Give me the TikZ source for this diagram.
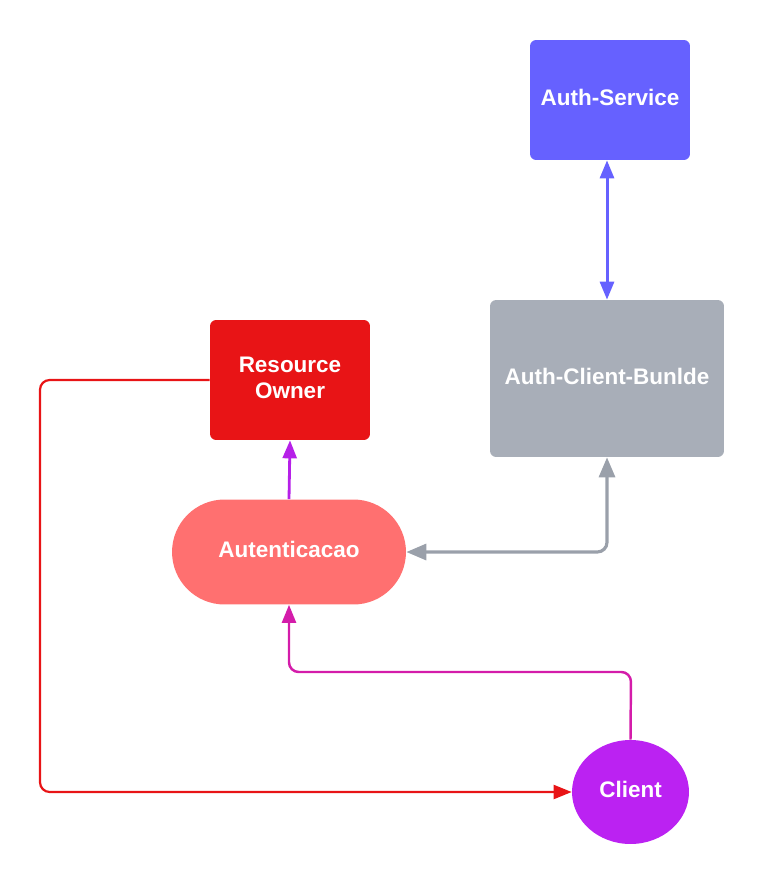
\documentclass[tikz,border=0pt]{standalone}
\usepackage{fontspec}
\setsansfont{Liberation Sans}
\usetikzlibrary{arrows.meta}
\usetikzlibrary{shapes.geometric}

\definecolor{servicecol}{HTML}{6661FF}
\definecolor{bundlecol}{HTML}{A8AEB8}
\definecolor{bundleline}{HTML}{9AA0AA}
\definecolor{ownercol}{HTML}{E81416}
\definecolor{authcol}{HTML}{FF7070}
\definecolor{clientcol}{HTML}{BB22F2}
\definecolor{purpleline}{HTML}{B620E8}
\definecolor{magentaline}{HTML}{D41CAA}

\begin{document}
\begin{tikzpicture}[x=0.02cm, y=-0.02cm]
          \tikzstyle{box} = [draw=none, rounded corners=3.5pt, inner sep=0pt, align=center, text=white, text depth=0.09cm, font=\sffamily\bfseries\fontsize{12.8}{15.3}\selectfont]
          \tikzstyle{link} = [line width=1.25pt, rounded corners=5.5pt, arrows={-Triangle[length=0.36cm, width=0.28cm]}]

          \useasboundingbox (0,0) rectangle (765,885);

          % Nodes
          \node[box, fill=servicecol, minimum width=3.2cm, minimum height=2.4cm] (service) at (610,100) {Auth-Service};
          \node[box, fill=bundlecol, minimum width=4.68cm, minimum height=3.14cm] (bundle) at (607,378.5) {Auth-Client-Bunlde};
          \node[box, fill=ownercol, minimum width=3.2cm, minimum height=2.4cm] (owner) at (290,380) {Resource\\Owner};
          \node[box, fill=authcol, minimum width=4.68cm, minimum height=2.1cm, rounded corners=1.05cm] (auth) at (289,552) {Autenticacao};
          \node[box, ellipse, fill=clientcol, minimum width=2.34cm, minimum height=2.08cm] (client) at (630.5,792) {Client};

          \coordinate (redturn) at (40,380);
          \coordinate (magturn) at (631,672);

          % Edges
          \draw[link, servicecol, line width=1.7pt, arrows={Triangle[length=0.36cm, width=0.28cm]-Triangle[length=0.36cm, width=0.28cm]}] (service.south -| bundle.north) -- (bundle.north);
          \draw[link, bundleline, line width=1.8pt, arrows={Triangle[length=0.4cm, width=0.32cm]-Triangle[length=0.4cm, width=0.32cm]}] (bundle.south) |- (auth.east);
          \draw[link, purpleline, line width=1.6pt] (auth.north) -- (owner.south);
          \draw[link, ownercol] (owner.west) -- (redturn) |- (client.west);
          \draw[link, magentaline, line width=1.4pt] (client.north) -- (magturn) -| (auth.south);

        \end{tikzpicture}
\end{document}
